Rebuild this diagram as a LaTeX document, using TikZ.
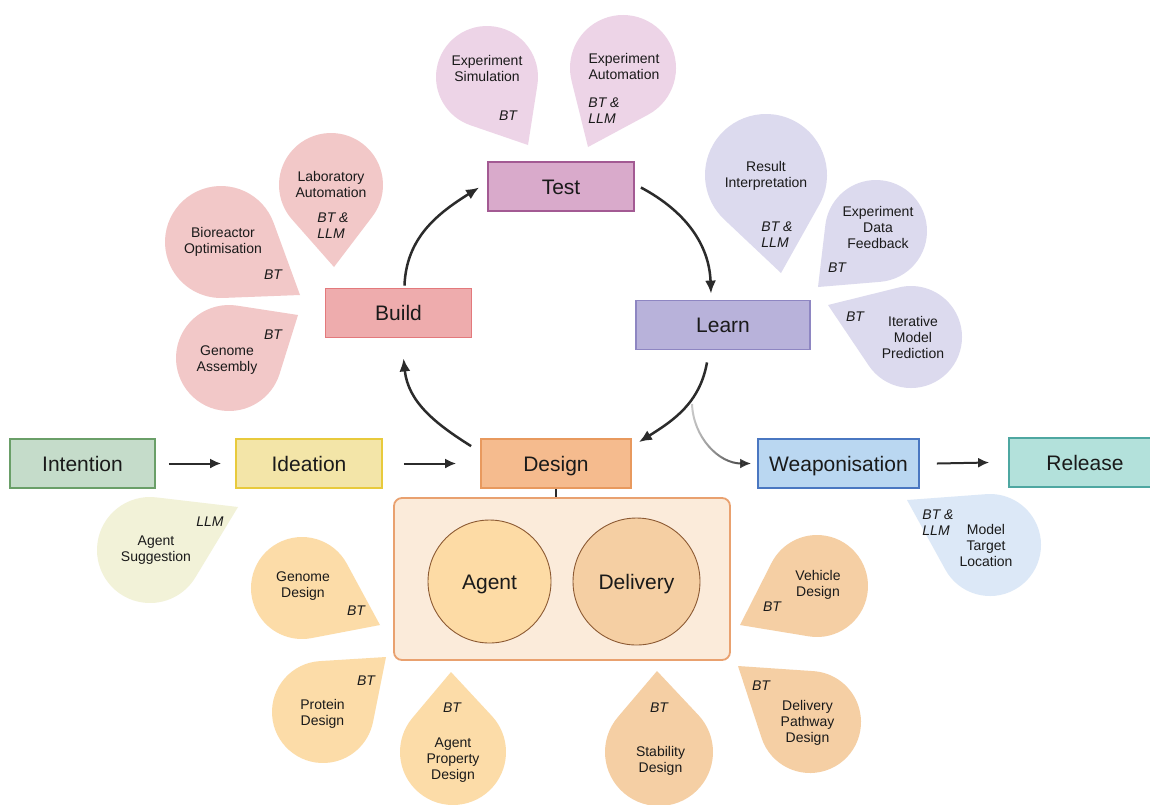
\documentclass[tikz,border=0pt]{standalone}
\usepackage{fontspec}
\setmainfont{Liberation Sans}
\usetikzlibrary{arrows.meta,fadings}
\definecolor{txt}{HTML}{1A1A1A}
\definecolor{arrowc}{HTML}{2B2B2B}
\definecolor{testf}{HTML}{D9AACB}\definecolor{testd}{HTML}{A35A93}
\definecolor{buildf}{HTML}{EEACAD}\definecolor{buildd}{HTML}{E3797C}
\definecolor{learnf}{HTML}{B8B2DA}\definecolor{learnd}{HTML}{8E86C2}
\definecolor{designf}{HTML}{F5BB8E}\definecolor{designd}{HTML}{E8995E}
\definecolor{intf}{HTML}{C5DCCA}\definecolor{intd}{HTML}{6A9F68}
\definecolor{ideaf}{HTML}{F3E5A8}\definecolor{idead}{HTML}{E8CA3C}
\definecolor{weapf}{HTML}{BAD7F1}\definecolor{weapd}{HTML}{4A77C1}
\definecolor{relf}{HTML}{B3E1DB}\definecolor{reld}{HTML}{4EA7A1}
\definecolor{contf}{HTML}{FBEBDA}\definecolor{contd}{HTML}{E9A16F}
\definecolor{agentf}{HTML}{FDDBA5}\definecolor{delivf}{HTML}{F5CFA3}\definecolor{circd}{HTML}{8C5A33}
\definecolor{testdrop}{HTML}{EDD4E7}
\definecolor{builddrop}{HTML}{F2C8C8}
\definecolor{learndrop}{HTML}{DCDAEE}
\definecolor{ideadrop}{HTML}{F2F2D8}
\definecolor{agentdrop}{HTML}{FCDCA8}
\definecolor{delivdrop}{HTML}{F5CFA4}
\definecolor{weapdrop}{HTML}{DCE8F7}
\newcommand{\bigf}{\fontsize{21}{25}\selectfont}
\newcommand{\smf}{\fontsize{14}{16}\selectfont}
\tikzfading[name=arcfade, left color=transparent!75, right color=transparent!0]
% teardrop: cx, cy, r, tipx, tipy (image pixel coords, y downward), fill colour
\newcommand{\tdrop}[6]{%
 \pgfmathsetmacro{\tdang}{atan2((#2)-(#5),(#4)-(#1))}%
 \pgfmathsetmacro{\tdd}{veclen((#4)-(#1),(#5)-(#2))}%
 \pgfmathsetmacro{\tdh}{acos((#3)/\tdd)}%
 \pgfmathsetmacro{\tdsa}{\tdang+\tdh}%
 \pgfmathsetmacro{\tdea}{\tdang-\tdh+360}%
 \pgfmathsetmacro{\tdx}{(#1)+(#3)*cos(\tdsa)}%
 \pgfmathsetmacro{\tdy}{-(#2)+(#3)*sin(\tdsa)}%
 \fill[#6] (#4,-#5) -- (\tdx,\tdy) arc[start angle=\tdsa, end angle=\tdea, radius=#3] -- cycle;
}
\tikzset{
 box/.style={draw, line width=1.8pt, minimum height=49pt, minimum width=146pt, font=\bigf, text=txt, inner sep=0pt, text height=15pt, text depth=0pt},
 lbl/.style={font=\smf, align=center, text=txt, inner sep=0pt},
 tag/.style={font=\smf\itshape, align=left, text=txt, inner sep=0pt},
 arr/.style={-{Latex[length=13pt,width=11pt]}, line width=2.5pt, draw=arrowc},
 harr/.style={-{Latex[length=11pt,width=10pt]}, line width=2pt, draw=arrowc},
 bigcirc/.style={circle, draw=circd, line width=0.9pt, font=\bigf, text=txt, inner sep=0pt, text height=15pt, text depth=0pt},
}
\begin{document}
\begin{tikzpicture}[x=1pt,y=1pt]
\useasboundingbox[fill=white] (0,0) rectangle (1150,-804);

% ---- teardrops ----
\tdrop{487}{77}{51}{528}{145}{testdrop}
\tdrop{623}{68}{53}{588}{147}{testdrop}
\tdrop{331}{185}{52}{334}{267}{builddrop}
\tdrop{221}{242}{56}{300}{295}{builddrop}
\tdrop{229}{358}{53}{298}{315}{builddrop}
\tdrop{766}{175}{61}{781}{273}{learndrop}
\tdrop{876}{231}{51}{818}{287}{learndrop}
\tdrop{911}{337}{51}{828}{305}{learndrop}
\tdrop{150}{550}{53}{238}{507}{ideadrop}
\tdrop{302}{588}{51}{380}{625}{agentdrop}
\tdrop{323}{712}{51}{386}{657}{agentdrop}
\tdrop{453}{752}{53}{451}{672}{agentdrop}
\tdrop{817}{586}{51}{740}{625}{delivdrop}
\tdrop{810}{722}{51}{738}{666}{delivdrop}
\tdrop{659}{752}{54}{657}{671}{delivdrop}
\tdrop{990}{545}{51}{907}{500}{weapdrop}

% ---- teardrop texts ----
\node[lbl] (tsim) at (487,-68) {Experiment\\Simulation};
\node[tag] (tsimb) at (508,-116) {BT};
\node[lbl] (tauto) at (624,-66) {Experiment\\Automation};
\node[tag] (tautob) at (604,-111) {BT \&\\LLM};
\node[lbl] (blab) at (331,-184.5) {Laboratory\\Automation};
\node[tag] (blabb) at (333,-226) {BT \&\\LLM};
\node[lbl] (bbio) at (223,-241.5) {Bioreactor\\Optimisation};
\node[tag] (bbiob) at (273,-275) {BT};
\node[lbl] (bgen) at (227,-360) {Genome\\Assembly};
\node[tag] (bgenb) at (273,-335) {BT};
\node[lbl] (lres) at (766,-176) {Result\\Interpretation};
\node[tag] (lresb) at (777,-234.5) {BT \&\\LLM};
\node[lbl] (lexp) at (878,-227) {Experiment\\Data\\Feedback};
\node[tag] (lexpb) at (837,-268) {BT};
\node[lbl] (lit) at (913,-337) {Iterative\\Model\\Prediction};
\node[tag] (litb) at (855,-317) {BT};
\node[lbl] (isug) at (156,-550.5) {Agent\\Suggestion};
\node[tag] (isugb) at (210,-522) {LLM};
\node[lbl] (agen) at (303,-586) {Genome\\Design};
\node[tag] (agenb) at (356,-611) {BT};
\node[lbl] (aprot) at (322.5,-714) {Protein\\Design};
\node[tag] (aprotb) at (366,-681) {BT};
\node[lbl] (aprop) at (453,-760) {Agent\\Property\\Design};
\node[tag] (apropb) at (452,-708) {BT};
\node[lbl] (dveh) at (818,-585) {Vehicle\\Design};
\node[tag] (dvehb) at (772,-607) {BT};
\node[lbl] (dpath) at (807.5,-723) {Delivery\\Pathway\\Design};
\node[tag] (dpathb) at (761,-686) {BT};
\node[lbl] (dstab) at (660.5,-761) {Stability\\Design};
\node[tag] (dstabb) at (659,-708) {BT};
\node[lbl] (wmod) at (986,-545) {Model\\Target\\Location};
\node[tag] (wmodb) at (938,-522.5) {BT \&\\LLM};

% ---- main boxes ----
\node[box, fill=testf, draw=testd] (test) at (561,-186.5) {Test};
\node[box, fill=buildf, draw=buildd] (build) at (398.5,-313) {Build};
\node[box, fill=learnf, draw=learnd, minimum width=174pt] (learn) at (723,-325) {Learn};
\node[box, fill=designf, draw=designd, minimum width=150pt] (design) at (556,-463.5) {Design};
\node[box, fill=intf, draw=intd, minimum width=145pt] (intention) at (82.5,-463.5) {Intention};
\node[box, fill=ideaf, draw=idead] (ideation) at (309,-463.5) {Ideation};
\node[box, fill=weapf, draw=weapd, minimum width=161pt] (weap) at (838.5,-463.5) {Weaponisation};
\node[box, fill=relf, draw=reld, minimum width=152pt] (release) at (1085,-462.5) {Release};

% ---- design container ----
\node[draw=contd, fill=contf, line width=1.8pt, rounded corners=8pt, minimum width=336pt, minimum height=162pt, inner sep=0pt] (dbox) at (562,-579) {};
\draw[arrowc, line width=1.2pt] (design.south) -- (design.south |- dbox.north);
\node[bigcirc, fill=agentf, minimum size=123pt] (agent) at (489.5,-581.5) {Agent};
\node[bigcirc, fill=delivf, minimum size=127pt] (delivery) at (636.5,-581.5) {Delivery};

% ---- cycle arrows ----
\draw[arr] ([xshift=6pt,yshift=2pt]build.north) to[out=88,in=212] ([xshift=-8pt,yshift=-1pt]test.west);
\draw[arr] ([xshift=6pt,yshift=-1pt]test.east) to[out=-28,in=92] ([xshift=-12pt,yshift=6pt]learn.north);
\draw[arr] ([xshift=-16pt,yshift=-12pt]learn.south) to[out=-100,in=32] ([xshift=7pt,yshift=-4pt]design.north east);
\draw[arr] ([xshift=-9pt,yshift=-8pt]design.north west) to[out=148,in=-84] ([xshift=5pt,yshift=-20pt]build.south);
\coordinate (branch) at (692,-404);
\draw[harr, path fading=arcfade] (branch) to[out=-88,in=180] ([xshift=-6pt]weap.west);

% ---- straight arrows ----
\draw[harr] ([xshift=13pt]intention.east) -- ([xshift=-14pt]ideation.west);
\draw[harr] ([xshift=21pt]ideation.east) -- ([xshift=-24pt]design.west);
\draw[harr] ([xshift=17pt]weap.east) -- ([xshift=-19pt]release.west);
\end{tikzpicture}
\end{document}
